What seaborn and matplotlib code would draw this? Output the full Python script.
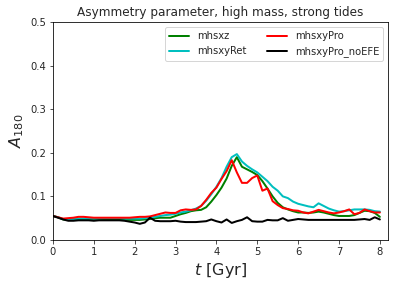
import numpy as np
import pandas as pd
import seaborn as sns
import matplotlib
matplotlib.use("Agg")
import matplotlib.pyplot as plt

# time grid (Gyr)
t = [0.0, 0.125, 0.25, 0.375, 0.5, 0.625, 0.75, 0.875, 1.0, 1.125, 1.25, 1.375, 1.5,
     1.625, 1.75, 1.875, 2.0, 2.125, 2.25, 2.375, 2.5, 2.625, 2.75, 2.875, 3.0,
     3.125, 3.25, 3.375, 3.5, 3.625, 3.75, 3.875, 4.0, 4.125, 4.25, 4.375, 4.5,
     4.625, 4.75, 4.875, 5.0, 5.125, 5.25, 5.375, 5.5, 5.625, 5.75, 5.875, 6.0,
     6.125, 6.25, 6.375, 6.5, 6.625, 6.75, 6.875, 7.0, 7.125, 7.25, 7.375, 7.5,
     7.625, 7.75, 7.875, 8.0]

mhsxz = [0.055, 0.052, 0.047, 0.046, 0.047, 0.048, 0.048, 0.047, 0.047, 0.047, 0.048,
         0.048, 0.048, 0.047, 0.046, 0.046, 0.046, 0.046, 0.047, 0.048, 0.050, 0.051,
         0.051, 0.051, 0.055, 0.059, 0.062, 0.066, 0.068, 0.069, 0.075, 0.088, 0.103,
         0.120, 0.141, 0.170, 0.190, 0.168, 0.162, 0.156, 0.149, 0.135, 0.118, 0.100,
         0.085, 0.075, 0.070, 0.066, 0.063, 0.063, 0.062, 0.063, 0.065, 0.063, 0.060,
         0.057, 0.055, 0.055, 0.055, 0.057, 0.062, 0.067, 0.066, 0.062, 0.053]

mhsxyRet = [0.055, 0.052, 0.048, 0.047, 0.048, 0.049, 0.049, 0.049, 0.049, 0.049, 0.050,
            0.050, 0.050, 0.050, 0.049, 0.049, 0.049, 0.049, 0.050, 0.051, 0.053, 0.055,
            0.057, 0.058, 0.060, 0.063, 0.065, 0.068, 0.072, 0.078, 0.090, 0.105, 0.122,
            0.142, 0.168, 0.190, 0.197, 0.180, 0.170, 0.162, 0.155, 0.145, 0.135, 0.122,
            0.113, 0.100, 0.096, 0.088, 0.083, 0.080, 0.077, 0.075, 0.084, 0.078, 0.072,
            0.068, 0.065, 0.066, 0.068, 0.070, 0.070, 0.070, 0.069, 0.066, 0.065]

mhsxyPro = [0.055, 0.052, 0.049, 0.050, 0.051, 0.053, 0.053, 0.052, 0.051, 0.051, 0.051,
            0.051, 0.051, 0.051, 0.051, 0.051, 0.052, 0.053, 0.053, 0.054, 0.057, 0.060,
            0.063, 0.062, 0.062, 0.068, 0.070, 0.069, 0.070, 0.078, 0.092, 0.108, 0.120,
            0.140, 0.158, 0.183, 0.155, 0.131, 0.131, 0.142, 0.148, 0.113, 0.118, 0.089,
            0.080, 0.073, 0.071, 0.068, 0.067, 0.063, 0.061, 0.065, 0.069, 0.066, 0.063,
            0.061, 0.063, 0.066, 0.070, 0.059, 0.062, 0.070, 0.066, 0.063, 0.063]

mhsxyPro_noEFE = [0.055, 0.051, 0.047, 0.044, 0.044, 0.045, 0.045, 0.045, 0.044, 0.045,
                  0.045, 0.045, 0.045, 0.045, 0.044, 0.042, 0.040, 0.037, 0.040, 0.051,
                  0.044, 0.043, 0.043, 0.043, 0.044, 0.042, 0.041, 0.041, 0.041, 0.042,
                  0.043, 0.047, 0.043, 0.040, 0.047, 0.039, 0.043, 0.046, 0.052, 0.043,
                  0.042, 0.042, 0.046, 0.045, 0.045, 0.050, 0.044, 0.046, 0.048, 0.047,
                  0.046, 0.046, 0.046, 0.046, 0.046, 0.046, 0.046, 0.046, 0.046, 0.046,
                  0.047, 0.048, 0.046, 0.052, 0.047]

runs = ["mhsxz", "mhsxyRet", "mhsxyPro", "mhsxyPro_noEFE"]
colors = ["green", "c", "r", "k"]

# long-form dataframe
df = pd.concat([
    pd.DataFrame({"t": t, "A180": vals, "run": name})
    for name, vals in zip(runs, [mhsxz, mhsxyRet, mhsxyPro, mhsxyPro_noEFE])
])

sns.set_style("ticks")
plt.rcParams["font.family"] = ["DejaVu Sans"]

fig = plt.figure(figsize=(398 / 72, 287 / 72), dpi=72)
ax = fig.add_axes([0.133, 0.164, 0.842, 0.759])

sns.lineplot(data=df, x="t", y="A180", hue="run", hue_order=runs,
             palette=dict(zip(runs, colors)), linewidth=2, ax=ax)

ax.set_xlim(0, 8.2)
ax.set_ylim(0, 0.5)
ax.set_yticks([0.0, 0.1, 0.2, 0.3, 0.4, 0.5])
ax.set_title("Asymmetry parameter, high mass, strong tides", fontsize=12)
ax.set_xlabel("$t$ [Gyr]", fontsize=16)
ax.set_ylabel("$A_{180}$", fontsize=16)
ax.tick_params(labelsize=10)
for s in ax.spines.values():
    s.set_color("k")

ax.legend(loc="upper right", ncol=2, fontsize=10, title=None)

fig.savefig("out.png", dpi=72)
